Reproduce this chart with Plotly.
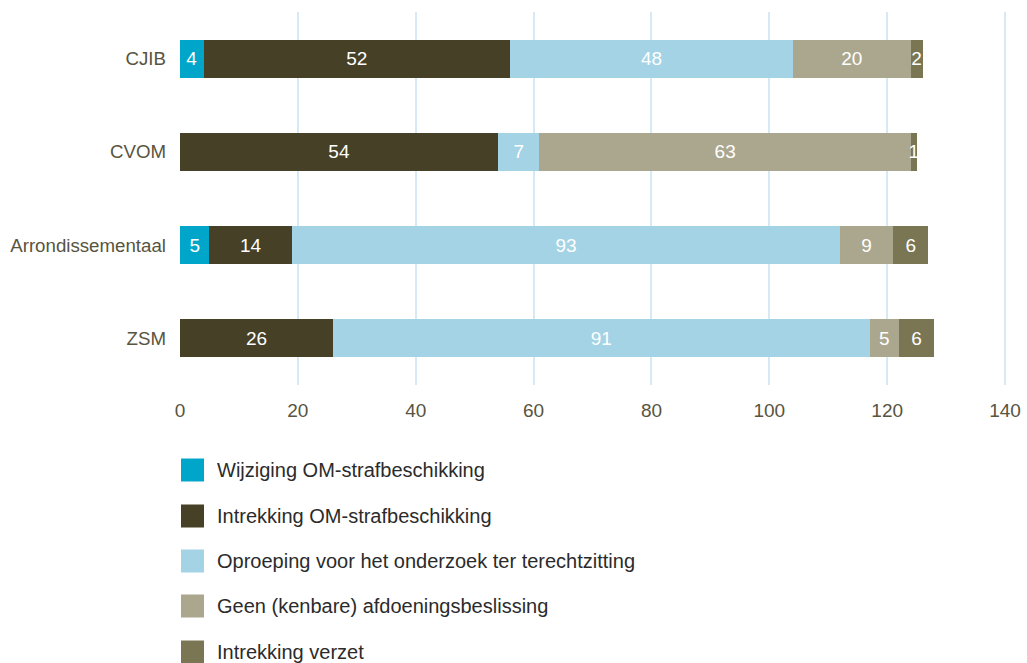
import plotly.graph_objects as go

categories = ["CJIB", "CVOM", "Arrondissementaal", "ZSM"]
series_names = [
    "Wijziging OM-strafbeschikking",
    "Intrekking OM-strafbeschikking",
    "Oproeping voor het onderzoek ter terechtzitting",
    "Geen (kenbare) afdoeningsbeslissing",
    "Intrekking verzet",
]
wijziging = [4, 0, 5, 0]
intrekking_om = [52, 54, 14, 26]
oproeping = [48, 7, 93, 91]
geen = [20, 63, 9, 5]
intrekking_verzet = [2, 1, 6, 6]
x_ticks = [0, 20, 40, 60, 80, 100, 120, 140]

series_values = [wijziging, intrekking_om, oproeping, geen, intrekking_verzet]
colors = ["#00a6c9", "#454026", "#a3d3e5", "#aba78e", "#7a7654"]

FONT = "Liberation Sans"
W, H = 1027, 663
L, R, T, B = 180, 19, 12, 278
pw, ph = W - L - R, H - T - B

fig = go.Figure()
for name, vals, col in zip(series_names, series_values, colors):
    fig.add_trace(go.Bar(
        y=categories, x=vals, name=name, orientation="h",
        marker=dict(color=col, line=dict(width=0)),
        text=[str(v) if v else "" for v in vals],
        textposition="inside", insidetextanchor="middle", textangle=0,
        textfont=dict(color="white", size=19, family=FONT),
        showlegend=False, hoverinfo="x+name",
    ))

# custom legend (pixel positions)
leg_y = [470, 516, 561, 606, 652]
def px2x(px):
    return (px - L) / pw
def py2y(py):
    return (T + ph - py) / ph
for name, col, yy in zip(series_names, colors, leg_y):
    fig.add_shape(type="rect", xref="paper", yref="paper",
                  x0=px2x(181), x1=px2x(204), y0=py2y(yy + 11.5), y1=py2y(yy - 11.5),
                  fillcolor=col, line=dict(width=0))
    fig.add_annotation(xref="paper", yref="paper", x=px2x(215), y=py2y(yy),
                       text=name, showarrow=False, xanchor="left", yanchor="middle",
                       font=dict(size=20, color="#2b2b2b", family=FONT))

fig.update_layout(
    barmode="stack", bargap=0.59,
    width=W, height=H, autosize=False,
    margin=dict(l=L, r=R, t=T, b=B, autoexpand=False),
    paper_bgcolor="white", plot_bgcolor="white",
    uniformtext=dict(minsize=19, mode="show"),
    font=dict(family=FONT),
    xaxis=dict(range=[0, 140.5], tickvals=x_ticks, showgrid=True, gridcolor="#d6e9f5",
               gridwidth=2, zeroline=False, showline=False, automargin=False,
               tickfont=dict(size=19, color="#57543f"), ticklabelstandoff=12,
               fixedrange=True),
    yaxis=dict(categoryorder="array", categoryarray=categories[::-1], autorange=True,
               showgrid=False, zeroline=False, showline=False, automargin=False,
               tickfont=dict(size=18.7, color="#57543f"), ticklabelstandoff=13,
               fixedrange=True),
)
fig.write_html("out.html", config={"displayModeBar": False, "responsive": False},
               post_script="document.body.style.margin='0';document.body.style.overflow='hidden';")
